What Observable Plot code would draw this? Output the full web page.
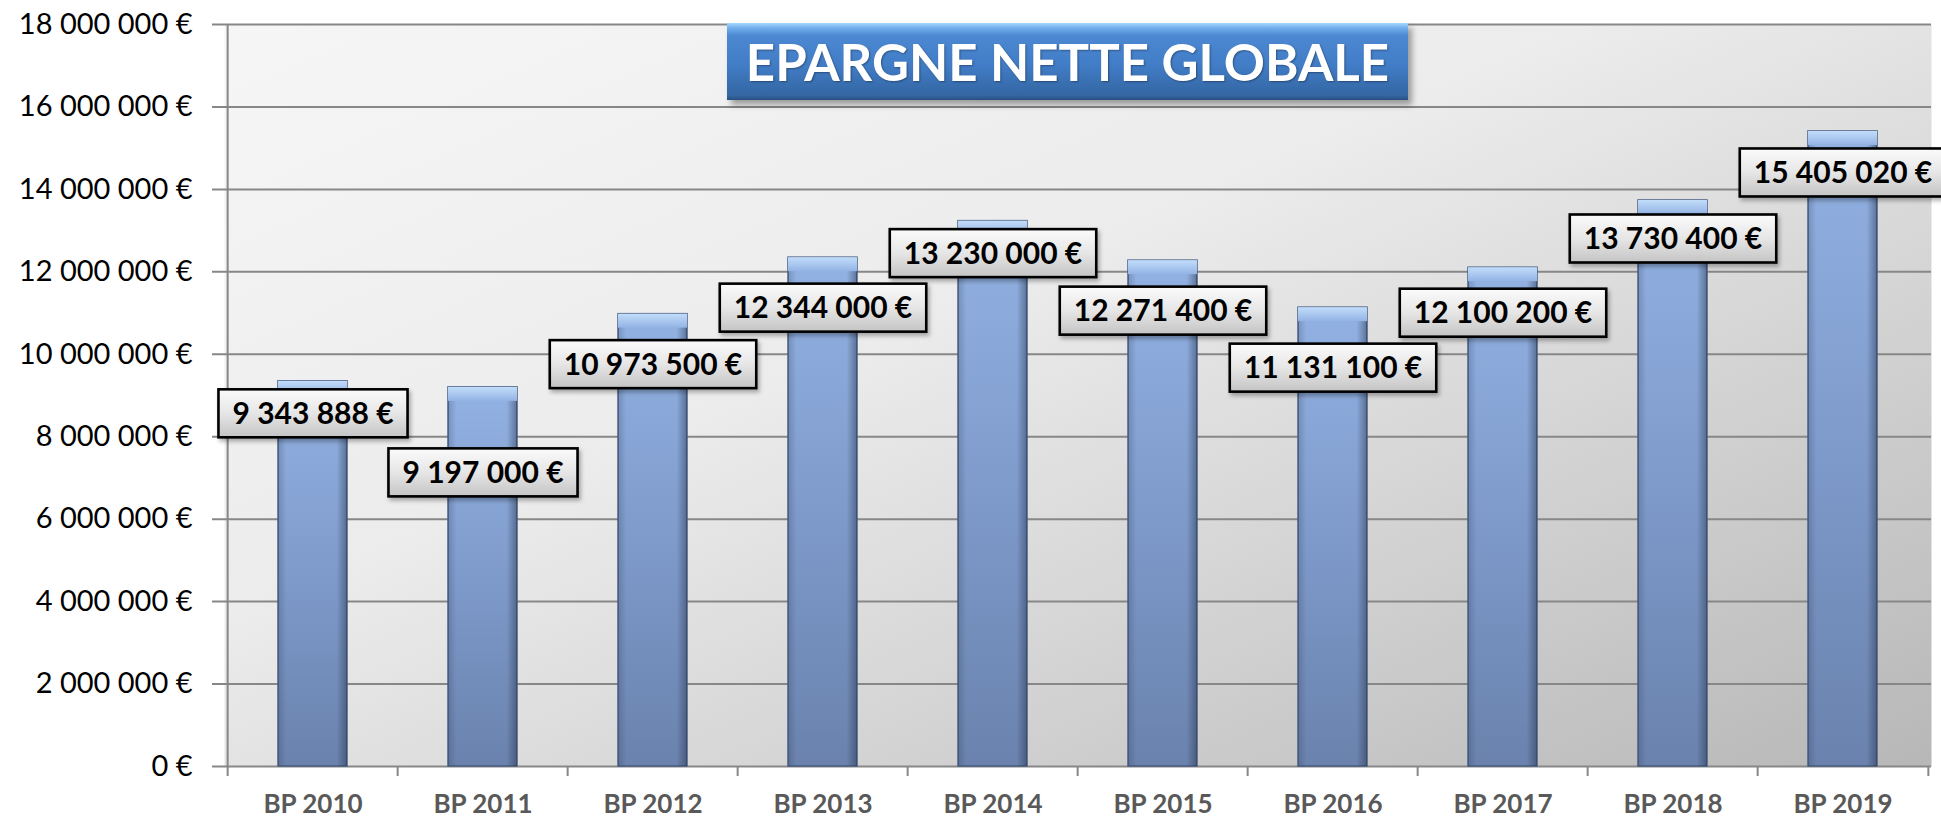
<!DOCTYPE html>
<html>
<head>
<meta charset="utf-8">
<script src="https://cdn.jsdelivr.net/npm/d3@7"></script>
<script src="https://cdn.jsdelivr.net/npm/@observablehq/plot@0.6"></script>
<style>
  html, body { margin: 0; padding: 0; background: #ffffff; overflow: hidden; }
  #wrap { position: relative; width: 1941px; height: 818px; }
  #title {
    position: absolute; left: 727px; top: 23px; width: 681px; height: 77px;
    box-sizing: border-box;
    background: linear-gradient(to bottom, #a3d8ff 0%, #6fabea 7%, #4d89d3 16%, #417cc6 55%, #3467a3 94%, #27507f 100%);
    box-shadow: 4px 5px 6px rgba(0,0,0,0.35);
    color: #ffffff; font-family: Lato, "Open Sans", sans-serif; font-weight: bold;
    font-size: 51px; line-height: 77px; text-align: center; white-space: nowrap;
    text-shadow: 1px 1px 2px rgba(0,0,0,0.35);
  }
</style>
</head>
<body>
<div id="wrap"><div id="chart"></div><div id="title">EPARGNE NETTE GLOBALE</div></div>
<script>
// ---------- data ----------
const categories = ["BP 2010", "BP 2011", "BP 2012", "BP 2013", "BP 2014", "BP 2015", "BP 2016", "BP 2017", "BP 2018", "BP 2019"];
const values = [9343888, 9197000, 10973500, 12344000, 13230000, 12271400, 11131100, 12100200, 13730400, 15405020];
const valueLabels = ["9 343 888 €", "9 197 000 €", "10 973 500 €", "12 344 000 €", "13 230 000 €", "12 271 400 €", "11 131 100 €", "12 100 200 €", "13 730 400 €", "15 405 020 €"];
const yTickValues = [0, 2000000, 4000000, 6000000, 8000000, 10000000, 12000000, 14000000, 16000000, 18000000];
const yTickLabels = ["0 €", "2 000 000 €", "4 000 000 €", "6 000 000 €", "8 000 000 €", "10 000 000 €", "12 000 000 €", "14 000 000 €", "16 000 000 €", "18 000 000 €"];

// ---------- layout / style ----------
const W = 1941, H = 818;
const mL = 224, mR = 10, mT = 24, mB = 52;
const step = (W - mL - mR) / categories.length;
const labelShiftPx = [33, 86, 51, 51, 33, 51, 61, 46, 39, 42]; // label box centre below bar top
const gridColor = "#878787";

const rows = categories.map((c, i) => ({cat: c, value: values[i], label: valueLabels[i]}));

const plot = Plot.plot({
  width: W, height: H,
  marginLeft: mL, marginRight: mR, marginTop: mT, marginBottom: mB,
  style: {fontFamily: "Lato, 'Open Sans', sans-serif", fontSize: "29px", background: "transparent", color: "#000", overflow: "visible"},
  x: {domain: categories, paddingInner: 0.596, paddingOuter: 0.298, label: null, tickSize: 0, tickPadding: 28},
  y: {domain: [0, 18000000], ticks: yTickValues, tickFormat: d => yTickLabels[yTickValues.indexOf(d)], label: null, tickSize: 0, tickPadding: 32},
  marks: [
    Plot.frame({fill: "url(#bgGrad)", stroke: null}),
    Plot.ruleY(yTickValues, {stroke: gridColor, strokeWidth: 2, insetLeft: -12}),
    Plot.barY(rows, {x: "cat", y: "value", fill: "url(#barGrad)", stroke: "#4a5e83", strokeWidth: 1.5}),
    Plot.barY(rows, {x: "cat", y: "value", fill: "url(#edgeGrad)"}),
    Plot.barY(rows, {x: "cat", y1: "value", y2: "value", insetBottom: -14, fill: "url(#bevelGrad)"}),
    Plot.ruleX([categories[0]], {y1: 18000000, y2: 0, dx: -step / 2, insetBottom: -10, stroke: gridColor, strokeWidth: 2}),
    Plot.ruleX(categories.slice(1), {y1: 0, y2: 0, dx: -step / 2, insetBottom: -10, stroke: gridColor, strokeWidth: 2}),
    Plot.ruleX([categories[categories.length - 1]], {y1: 0, y2: 0, dx: step / 2, insetBottom: -10, stroke: gridColor, strokeWidth: 2}),
    ...rows.map((r, i) => Plot.text([r], {x: "cat", y: "value", text: "label", dy: labelShiftPx[i], fontWeight: "bold", fontSize: 30, fill: "#000"}))
  ]
});

document.getElementById("chart").appendChild(plot);

// gradients
const svg = d3.select(plot);
const defs = svg.insert("defs", ":first-child");
function grad(id, x2, y2, stops) {
  const g = defs.append("linearGradient").attr("id", id).attr("x1", 0).attr("y1", 0).attr("x2", x2).attr("y2", y2);
  stops.forEach(([o, c, a]) => g.append("stop").attr("offset", o).attr("stop-color", c).attr("stop-opacity", a == null ? 1 : a));
}
grad("bgGrad", 1, 1, [[0, "#f6f6f6"], [0.4, "#ececec"], [0.65, "#d6d6d6"], [1, "#b7b7b7"]]);
grad("barGrad", 0, 1, [[0, "#92b2e3"], [0.55, "#7c98c8"], [1, "#6a82ad"]]);
grad("edgeGrad", 1, 0, [[0, "#1e2a40", 0.22], [0.12, "#1e2a40", 0], [0.85, "#1e2a40", 0], [1, "#1e2a40", 0.45]]);
grad("bevelGrad", 0, 1, [[0, "#c2ddfa"], [1, "#93b3e4"]]);
grad("boxGrad", 0, 1, [[0, "#fbfbfb"], [0.5, "#e6e6e6"], [1, "#c4c4c4"]]);
const f = defs.append("filter").attr("id", "shadow").attr("x", "-10%").attr("y", "-20%").attr("width", "130%").attr("height", "150%");
f.append("feDropShadow").attr("dx", 2).attr("dy", 3).attr("stdDeviation", 2).attr("flood-color", "#000").attr("flood-opacity", 0.3);

// x-axis labels: bold grey
svg.selectAll("text").filter(function () { return categories.includes(this.textContent); })
  .attr("font-weight", "bold").attr("fill", "#595959").attr("font-size", 26);

// label boxes
svg.selectAll("text").filter(function () { return valueLabels.includes(this.textContent); })
  .each(function () {
    const bb = this.getBBox();
    const padX = 14;
    const rect = document.createElementNS("http://www.w3.org/2000/svg", "rect");
    rect.setAttribute("x", bb.x - padX);
    rect.setAttribute("y", -25);
    rect.setAttribute("width", bb.width + 2 * padX);
    rect.setAttribute("height", 48);
    rect.setAttribute("fill", "url(#boxGrad)");
    rect.setAttribute("stroke", "#000");
    rect.setAttribute("stroke-width", 2.6);
    rect.setAttribute("filter", "url(#shadow)");
    const t = this.getAttribute("transform");
    if (t) rect.setAttribute("transform", t);
    this.parentNode.insertBefore(rect, this);
  });
</script>
</body>
</html>
